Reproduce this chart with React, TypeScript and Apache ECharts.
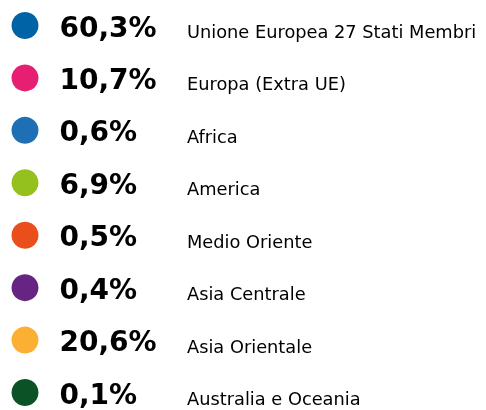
import React, { useEffect, useRef } from "react";
import * as echarts from "echarts";

const regions = [
  "Unione Europea 27 Stati Membri",
  "Europa (Extra UE)",
  "Africa",
  "America",
  "Medio Oriente",
  "Asia Centrale",
  "Asia Orientale",
  "Australia e Oceania",
];
const shares = [60.3, 10.7, 0.6, 6.9, 0.5, 0.4, 20.6, 0.1];
const colors = [
  "#0063A6",
  "#E61F73",
  "#1F6FB5",
  "#95C11F",
  "#E94E1B",
  "#662483",
  "#FBB034",
  "#0B5226",
];

const fmtPct = (v: number) => v.toFixed(1).replace(".", ",") + "%";

export default function App() {
  const ref = useRef<HTMLDivElement>(null);
  useEffect(() => {
    if (!ref.current) return;
    const chart = echarts.init(ref.current, undefined, { renderer: "svg" });
    const data = regions.map((r, i) => ({
      value: [0, r],
      share: shares[i],
      itemStyle: { color: colors[i], opacity: 1 },
    }));
    chart.setOption({
      animation: false,
      grid: { left: 25, right: 20, top: 25.5, bottom: 17.5 },
      xAxis: { type: "value", min: 0, max: 1, show: false },
      yAxis: {
        type: "category",
        data: regions,
        inverse: true,
        boundaryGap: false,
        show: false,
      },
      series: [
        {
          type: "scatter",
          symbol: "circle",
          symbolSize: 27,
          data,
          itemStyle: { opacity: 1 },
          emphasis: { disabled: true },
          label: {
            show: true,
            position: "right",
            distance: 21,
            offset: [0, 1.5],
            formatter: (p: any) => fmtPct(p.data.share),
            fontFamily: "DejaVu Sans",
            fontWeight: "bold",
            fontSize: 28,
            color: "#000",
            opacity: 1,
          },
        },
        {
          type: "scatter",
          symbol: "circle",
          symbolSize: 0,
          data: data.map((d) => ({ value: d.value })),
          itemStyle: { opacity: 1 },
          emphasis: { disabled: true },
          label: {
            show: true,
            position: "right",
            distance: 162,
            offset: [0, 6],
            formatter: (p: any) => regions[p.dataIndex],
            fontFamily: "DejaVu Sans",
            fontSize: 17.8,
            color: "#000",
            opacity: 1,
          },
        },
      ],
    });
    return () => chart.dispose();
  }, []);
  return (
    <div
      ref={ref}
      style={{ position: "fixed", left: 0, top: 0, width: 486, height: 410 }}
    />
  );
}
